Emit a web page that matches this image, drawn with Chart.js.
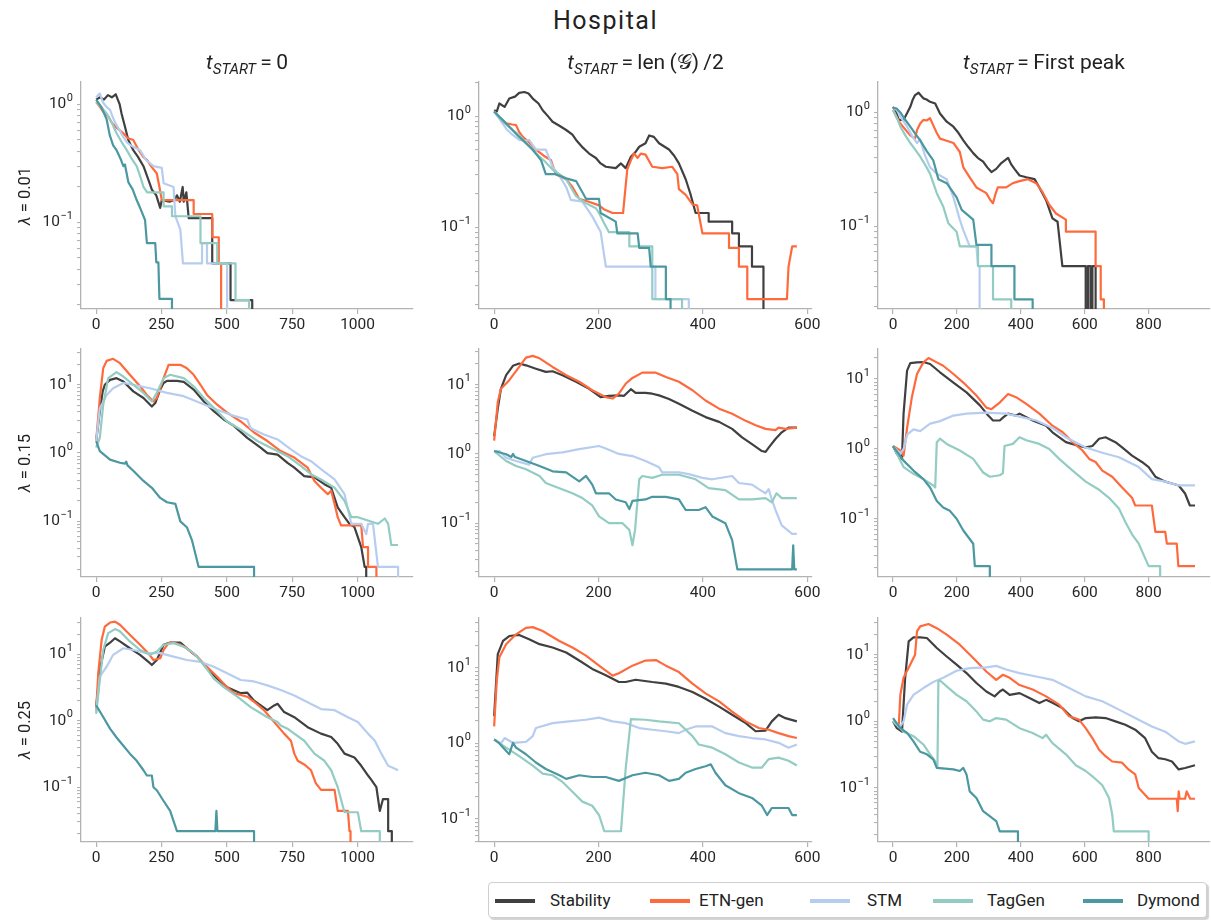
<!DOCTYPE html>
<html><head><meta charset="utf-8">
<script src="https://cdn.jsdelivr.net/npm/chart.js@4.4.0/dist/chart.umd.min.js"></script>
<style>
html,body{margin:0;padding:0;background:#fff;overflow:hidden;}
#root{position:relative;width:1211px;height:920px;font-family:Roboto,'DejaVu Sans',sans-serif;color:#222;}
canvas{position:absolute;}
.suptitle{position:absolute;left:0;top:5px;width:1211px;text-align:center;font-size:25px;letter-spacing:1.5px;line-height:32px;}
.coltitle{position:absolute;top:48px;width:400px;text-align:center;font-size:21px;line-height:28px;white-space:nowrap;}
.coltitle sub{font-size:15px;vertical-align:-5px;line-height:0;}
.rowlabel{position:absolute;left:24px;font-size:16.5px;white-space:nowrap;transform:translate(-50%,-50%) rotate(-90deg);}
#legend{position:absolute;left:488px;top:882px;width:717px;height:34px;border:1px solid #cfcfcf;border-radius:4px;background:#fff;box-shadow:2px 2px 1px rgba(0,0,0,0.18);}
.lgline{position:absolute;top:16px;height:3.5px;}
.lgtext{position:absolute;top:6px;font-size:17px;line-height:22px;white-space:nowrap;}
</style></head>
<body><div id="root">
<div class="suptitle">Hospital</div>
<div id="legend"></div>
</div>
<script>
// ---------------- DATA ----------------
const seriesNames = ['Stability', 'ETN-gen', 'STM', 'TagGen', 'Dymond'];
const colTitles = ['0', 'len\u2009(\uD835\uDCA2)\u2009/2', 'First peak'];
const rowLabels = ['0.01', '0.15', '0.25'];
const xTicksCol1 = [0, 250, 500, 750, 1000];
const xTicksCol2 = [0, 200, 400, 600];
const xTicksCol3 = [0, 200, 400, 600, 800];

// lambda = 0.01, t_start = 0
const r1c1_stability = [[0,1.1],[15,1.15],[30,1.1],[45,1.2],[60,1.15],[75,1.22],[90,1.0],[97,0.84],[110,0.65],[123,0.5],[142,0.41],[160,0.36],[181,0.3],[200,0.23],[213,0.19],[230,0.17],[245,0.133],[251,0.155],[280,0.15],[300,0.155],[309,0.17],[320,0.15],[331,0.2],[335,0.15],[345,0.18],[354,0.109],[444,0.109],[444,0.045],[514,0.045],[514,0.022],[597,0.022],[597,0]];
const r1c1_etngen = [[0,1.05],[15,0.95],[30,0.85],[45,0.8],[60,0.7],[80,0.63],[104,0.57],[120,0.52],[142,0.5],[160,0.42],[180,0.36],[194,0.34],[210,0.3],[232,0.26],[242,0.2],[251,0.155],[373,0.155],[373,0.118],[444,0.118],[444,0.075],[469,0.075],[469,0.045],[478,0.045],[478,0]];
const r1c1_stm = [[0,1.15],[8,1.2],[14,1.24],[25,1.05],[40,0.95],[53,0.9],[70,0.72],[90,0.6],[104,0.53],[120,0.47],[140,0.44],[168,0.41],[190,0.34],[219,0.3],[251,0.29],[258,0.215],[296,0.2],[303,0.113],[322,0.087],[332,0.045],[405,0.045],[405,0.067],[424,0.067],[424,0.045],[501,0.045],[501,0]];
const r1c1_taggen = [[0,1.05],[20,0.95],[40,0.84],[60,0.7],[78,0.57],[100,0.47],[117,0.41],[135,0.35],[155,0.3],[170,0.24],[181,0.2],[195,0.18],[258,0.18],[258,0.137],[290,0.137],[290,0.113],[399,0.113],[399,0.067],[463,0.067],[463,0.045],[533,0.045],[533,0.022],[585,0.022],[585,0]];
const r1c1_dymond = [[0,1.1],[20,0.95],[40,0.75],[52,0.55],[65,0.45],[78,0.41],[95,0.34],[104,0.3],[110,0.31],[123,0.22],[140,0.19],[155,0.155],[170,0.13],[187,0.105],[194,0.067],[226,0.067],[230,0.046],[238,0.046],[242,0.0225],[290,0.0225],[290,0]];

// lambda = 0.01, t_start = len/2
const r1c2_stability = [[0,1.13],[5,1.1],[10,1.3],[20,1.21],[29,1.44],[40,1.5],[48,1.62],[58,1.65],[66,1.6],[74,1.44],[85,1.3],[93,1.13],[103,1.0],[112,0.89],[125,0.82],[138,0.75],[150,0.68],[157,0.61],[170,0.52],[182,0.46],[195,0.42],[204,0.375],[214,0.35],[233,0.34],[243,0.375],[252,0.34],[262,0.43],[270,0.47],[278,0.53],[290,0.57],[297,0.67],[306,0.65],[316,0.57],[335,0.5],[345,0.44],[354,0.375],[367,0.27],[376,0.2],[386,0.134],[411,0.134],[411,0.112],[456,0.112],[456,0.088],[469,0.088],[469,0.067],[494,0.067],[494,0.044],[516,0.044],[516,0]];
const r1c2_etngen = [[0,1.1],[10,0.97],[23,0.86],[35,0.84],[42,0.83],[48,0.72],[55,0.65],[67,0.58],[80,0.5],[95,0.44],[109,0.4],[118,0.3],[138,0.27],[150,0.23],[163,0.18],[180,0.17],[201,0.157],[210,0.145],[227,0.134],[247,0.134],[255,0.33],[262,0.4],[268,0.46],[275,0.42],[281,0.46],[290,0.45],[303,0.35],[322,0.34],[341,0.35],[351,0.3],[354,0.22],[367,0.195],[380,0.16],[389,0.157],[399,0.088],[450,0.088],[450,0.065],[469,0.065],[469,0.044],[485,0.044],[485,0.0225],[561,0.0225],[564,0.044],[571,0.067],[580,0.067]];
const r1c2_stm = [[0,1.1],[10,0.95],[23,0.77],[35,0.68],[48,0.61],[58,0.6],[67,0.61],[80,0.5],[99,0.5],[112,0.35],[125,0.29],[138,0.23],[147,0.176],[169,0.17],[188,0.125],[204,0.091],[214,0.044],[309,0.044],[309,0.0225],[373,0.0225],[373,0]];
const r1c2_taggen = [[0,1.1],[15,0.9],[36,0.75],[50,0.66],[61,0.57],[80,0.46],[95,0.4],[112,0.33],[125,0.3],[138,0.27],[157,0.19],[175,0.165],[195,0.148],[201,0.134],[210,0.11],[220,0.09],[259,0.09],[259,0.067],[303,0.067],[303,0.0225],[360,0.0225],[360,0]];
const r1c2_dymond = [[0,1.1],[23,0.86],[48,0.65],[74,0.5],[90,0.4],[99,0.3],[118,0.3],[138,0.275],[157,0.26],[176,0.18],[201,0.18],[204,0.134],[233,0.112],[236,0.088],[275,0.088],[278,0.065],[297,0.065],[300,0.044],[329,0.044],[329,0.0225],[338,0.0225],[338,0]];

// lambda = 0.01, t_start = first peak
const r1c3_stability = [[0,1.12],[10,1.0],[18,0.86],[33,0.86],[45,1.0],[54,1.12],[62,1.3],[69,1.42],[80,1.49],[88,1.4],[95,1.33],[105,1.3],[116,1.24],[132,1.2],[147,0.98],[168,0.83],[189,0.75],[205,0.66],[220,0.57],[235,0.5],[251,0.44],[265,0.4],[282,0.37],[295,0.33],[308,0.3],[323,0.32],[339,0.36],[350,0.38],[360,0.4],[370,0.35],[380,0.32],[396,0.28],[417,0.27],[443,0.26],[458,0.22],[479,0.17],[499,0.118],[515,0.11],[530,0.045],[603,0.045],[603,0],[610,0],[610,0.045],[618,0.045],[618,0],[624,0],[624,0.045],[634,0.045],[634,0]];
const r1c3_etngen = [[0,1.05],[10,0.92],[23,0.8],[40,0.7],[54,0.63],[69,0.59],[75,0.7],[85,0.8],[95,0.86],[105,0.85],[116,0.89],[126,0.77],[137,0.66],[147,0.59],[163,0.57],[189,0.54],[209,0.45],[220,0.33],[240,0.27],[261,0.22],[292,0.196],[305,0.17],[313,0.16],[320,0.19],[328,0.22],[354,0.22],[375,0.24],[396,0.25],[422,0.26],[448,0.24],[468,0.2],[489,0.155],[510,0.13],[541,0.115],[541,0.09],[634,0.09],[634,0.045],[650,0.045],[650,0.023],[660,0.023],[660,0]];
const r1c3_stm = [[0,1.1],[12,1.05],[25,0.9],[44,0.75],[60,0.62],[75,0.54],[85,0.58],[100,0.42],[116,0.33],[137,0.29],[168,0.26],[189,0.18],[209,0.115],[220,0.093],[240,0.067],[261,0.067],[266,0.045],[271,0.045],[271,0]];
const r1c3_taggen = [[0,1.05],[12,0.9],[23,0.75],[40,0.62],[54,0.54],[70,0.47],[85,0.41],[100,0.35],[116,0.29],[137,0.196],[157,0.15],[173,0.107],[199,0.09],[209,0.067],[266,0.067],[266,0.045],[313,0.045],[313,0.023],[370,0.023],[370,0]];
const r1c3_dymond = [[0,1.1],[12,1.08],[23,1.0],[40,0.85],[54,0.75],[70,0.65],[85,0.57],[105,0.46],[126,0.38],[142,0.26],[168,0.24],[199,0.18],[215,0.14],[251,0.115],[261,0.069],[308,0.069],[308,0.045],[380,0.045],[380,0.023],[437,0.023],[437,0]];

// lambda = 0.15, t_start = 0
const r2c1_stability = [[0,1.5],[14,4.1],[25,8],[33,10],[53,11.8],[78,12.5],[104,11.2],[142,8],[181,6.4],[213,4.8],[226,5.4],[245,8.5],[258,10.6],[271,11.4],[309,11.4],[335,11],[373,8.5],[412,5.7],[450,4.1],[488,3.1],[527,2.5],[578,1.67],[629,1.2],[655,1.0],[694,0.95],[732,0.72],[758,0.61],[796,0.46],[835,0.44],[873,0.35],[899,0.31],[924,0.16],[950,0.115],[969,0.092],[988,0.082],[1014,0.042],[1027,0.0215],[1033,0.0215],[1033,0]];
const r2c1_etngen = [[0,1.5],[14,6.4],[27,17.5],[40,22.4],[65,24],[91,20.7],[129,14],[168,9.5],[194,7.1],[219,5.7],[232,6.4],[258,12.5],[277,19.6],[296,19.6],[322,19.6],[347,17.5],[373,14],[399,10],[424,7.1],[463,5.1],[501,3.9],[553,2.9],[604,2.0],[655,1.5],[706,1.07],[758,0.86],[809,0.61],[835,0.39],[860,0.31],[886,0.25],[899,0.28],[912,0.18],[924,0.115],[937,0.087],[1014,0.087],[1021,0.042],[1040,0.042],[1040,0.0215],[1072,0.0215],[1072,0]];
const r2c1_stm = [[0,1.5],[14,4.5],[40,7.1],[65,8.9],[104,10.6],[142,10],[206,8.9],[271,7.6],[335,6.8],[399,5.4],[463,4.3],[527,3.5],[578,3.1],[591,2.3],[642,1.87],[694,1.58],[745,1.13],[783,0.9],[822,0.76],[860,0.58],[912,0.41],[950,0.25],[976,0.092],[1014,0.092],[1033,0.065],[1040,0.092],[1059,0.092],[1078,0.0215],[1155,0.0215],[1155,0]];
const r2c1_taggen = [[0,1.2],[14,1.67],[27,5.1],[46,12.5],[78,15.3],[104,13.2],[142,10],[181,7.6],[213,5.7],[232,7.6],[258,12.5],[283,14],[335,12.5],[373,9.5],[412,6.4],[450,4.6],[501,2.9],[553,2.2],[617,1.5],[681,1.13],[732,0.9],[783,0.65],[822,0.49],[860,0.41],[912,0.31],[950,0.2],[976,0.115],[1001,0.115],[1078,0.092],[1104,0.11],[1117,0.092],[1129,0.045],[1155,0.045]];
const r2c1_dymond = [[0,1.5],[14,1.07],[53,0.8],[91,0.72],[110,0.7],[115,0.75],[120,0.66],[142,0.55],[181,0.39],[213,0.31],[245,0.22],[271,0.19],[303,0.18],[322,0.1],[347,0.082],[367,0.052],[392,0.0215],[604,0.0215],[604,0]];

// lambda = 0.15, t_start = len/2
const r2c2_stability = [[0,1.8],[7,4.5],[13,8.7],[23,13.7],[36,18.7],[48,20.2],[61,19],[80,17],[99,15.3],[112,15.6],[131,13.7],[157,11],[182,8.7],[204,6.6],[220,6.9],[239,7],[249,6.9],[262,8.6],[271,7.6],[290,7.6],[303,7.4],[316,7],[335,6.2],[354,5.3],[380,4.2],[405,3.4],[431,2.9],[456,2.3],[475,1.73],[494,1.38],[513,1.1],[520,1.07],[526,1.23],[539,1.64],[551,2.05],[564,2.4],[580,2.4]];
const r2c2_etngen = [[0,1.55],[7,5.6],[13,8.7],[29,11.6],[48,18],[61,24.5],[74,26],[87,24],[112,18],[138,13.7],[163,11],[188,8.3],[214,6.6],[227,6.3],[239,7.4],[252,10.3],[265,12.5],[284,14.9],[310,14.9],[329,12.9],[354,11],[380,8.3],[405,5.9],[431,4.5],[456,3.8],[482,3.0],[501,2.6],[520,2.3],[539,2.2],[545,2.4],[558,2.3],[580,2.4]];
const r2c2_stm = [[0,1.1],[10,1.1],[23,0.88],[42,0.79],[67,0.7],[74,0.88],[99,0.99],[131,1.05],[163,1.17],[201,1.3],[214,1.2],[239,1.0],[265,0.93],[290,0.79],[316,0.64],[322,0.54],[354,0.54],[373,0.51],[399,0.45],[418,0.43],[456,0.48],[469,0.38],[494,0.36],[507,0.31],[520,0.27],[526,0.31],[532,0.22],[539,0.155],[551,0.093],[571,0.07],[580,0.07]];
const r2c2_taggen = [[0,1.1],[23,0.79],[42,0.67],[61,0.6],[87,0.48],[99,0.38],[125,0.32],[150,0.27],[169,0.23],[188,0.18],[201,0.125],[220,0.1],[246,0.1],[259,0.08],[265,0.048],[270,0.08],[278,0.43],[284,0.48],[303,0.45],[322,0.5],[354,0.5],[386,0.43],[411,0.32],[443,0.3],[469,0.22],[494,0.22],[520,0.23],[532,0.2],[541,0.27],[551,0.23],[580,0.23]];
const r2c2_dymond = [[0,1.1],[23,0.99],[33,0.9],[36,1.0],[40,0.9],[61,0.79],[87,0.67],[112,0.56],[138,0.54],[163,0.4],[176,0.48],[188,0.36],[195,0.27],[220,0.27],[233,0.22],[252,0.2],[259,0.16],[265,0.21],[290,0.22],[303,0.24],[329,0.24],[354,0.22],[367,0.155],[392,0.155],[405,0.17],[418,0.125],[443,0.1],[456,0.057],[466,0.0215],[571,0.0215],[573,0.048],[575,0.0215],[580,0.0215]];

// lambda = 0.15, t_start = first peak
const r2c3_stability = [[0,1.1],[12,0.85],[28,0.72],[33,3.2],[44,13.2],[54,16.9],[75,17.3],[95,17.5],[116,16.4],[147,12.5],[189,8.9],[230,6.45],[272,4.2],[298,3.0],[313,2.55],[334,2.55],[344,2.8],[360,3.2],[385,3.0],[396,3.2],[437,2.55],[479,2.15],[499,1.73],[541,1.25],[582,1.1],[603,1.05],[624,1.1],[645,1.4],[665,1.47],[696,1.25],[717,1.05],[748,0.8],[779,0.65],[800,0.55],[821,0.4],[852,0.34],[873,0.32],[894,0.3],[914,0.23],[929,0.155],[945,0.155]];
const r2c3_etngen = [[0,1.1],[23,0.95],[33,0.8],[44,2.0],[59,5.5],[75,11.8],[95,17.3],[111,20],[137,17.3],[157,15.5],[189,11.8],[220,8.9],[261,5.8],[292,3.9],[308,3.7],[334,4.6],[360,6.1],[385,5.5],[417,4.4],[458,3.2],[499,2.15],[531,1.73],[562,1.25],[593,0.95],[614,0.72],[634,0.65],[655,0.49],[686,0.4],[717,0.28],[748,0.2],[758,0.155],[810,0.155],[821,0.065],[852,0.065],[857,0.044],[888,0.044],[893,0.021],[945,0.021]];
const r2c3_stm = [[0,1.1],[23,0.85],[33,1.0],[44,1.6],[64,1.9],[85,1.8],[116,2.3],[147,2.5],[189,3.0],[230,3.2],[292,3.3],[354,3.2],[396,2.9],[448,2.55],[499,2.0],[541,1.47],[603,1.05],[655,0.88],[707,0.76],[769,0.55],[810,0.37],[852,0.34],[894,0.3],[945,0.3]];
const r2c3_taggen = [[0,1.1],[33,0.55],[64,0.44],[95,0.37],[126,0.3],[132,0.28],[137,1.25],[147,1.4],[168,1.18],[209,0.95],[251,0.72],[282,0.46],[303,0.4],[334,0.42],[344,0.45],[349,1.1],[375,1.18],[396,1.47],[417,1.33],[458,1.18],[489,1.0],[520,0.72],[562,0.49],[603,0.34],[645,0.26],[676,0.2],[707,0.14],[727,0.09],[748,0.06],[769,0.044],[800,0.021],[836,0.021],[836,0]];
const r2c3_dymond = [[0,1.1],[33,0.68],[64,0.49],[95,0.37],[116,0.28],[137,0.18],[157,0.145],[178,0.13],[199,0.1],[220,0.068],[251,0.044],[256,0.021],[303,0.021],[303,0]];

// lambda = 0.25, t_start = 0
const r3c1_stability = [[0,1.6],[14,5.8],[33,13],[53,14.9],[72,17.4],[91,15.6],[129,12.3],[168,9.8],[200,7.7],[213,6.9],[232,8.2],[258,13.9],[283,15],[322,15],[347,12.3],[386,9.2],[424,6.1],[463,4.3],[501,3.2],[553,2.6],[578,2.65],[604,2.0],[655,1.44],[681,1.7],[694,1.8],[719,1.35],[758,1.13],[809,0.8],[860,0.64],[899,0.57],[924,0.45],[950,0.32],[988,0.28],[1014,0.21],[1040,0.15],[1052,0.13],[1072,0.1],[1085,0.044],[1097,0.066],[1117,0.066],[1117,0.0218],[1131,0.0218],[1131,0]];
const r3c1_etngen = [[0,1.44],[8,5.2],[21,16.5],[33,26],[53,30],[72,31],[91,27.8],[129,19.6],[168,13.9],[200,10.3],[219,8.2],[245,8.7],[258,11.6],[277,14.7],[296,15],[322,13.9],[347,12.3],[386,9.2],[424,6.5],[463,4.6],[501,3.2],[527,2.6],[578,2.3],[604,1.93],[642,1.44],[681,0.96],[719,0.64],[745,0.5],[758,0.32],[771,0.25],[796,0.22],[822,0.18],[840,0.115],[860,0.091],[912,0.091],[924,0.044],[963,0.044],[969,0.0218],[973,0.0218],[973,0]];
const r3c1_stm = [[0,1.35],[14,4.6],[40,6.5],[65,9.8],[104,12.3],[142,11.6],[194,10.4],[245,10.4],[296,9.2],[347,8.2],[399,7.7],[450,6.5],[501,5.2],[553,4.1],[604,3.9],[655,3.4],[706,2.9],[758,2.4],[809,1.9],[860,1.5],[912,1.44],[963,1.13],[1001,0.96],[1040,0.64],[1066,0.5],[1091,0.32],[1117,0.21],[1143,0.19],[1155,0.18]];
const r3c1_taggen = [[0,1.27],[14,4.1],[27,11.6],[46,20.8],[72,23.9],[91,22.1],[129,15.6],[168,11.6],[206,9.8],[232,11],[258,13.9],[296,14.7],[335,13],[373,10.4],[412,6.9],[450,4.3],[488,3.2],[540,2.3],[591,1.6],[655,1.13],[694,0.96],[706,0.85],[732,0.76],[758,0.64],[796,0.5],[835,0.32],[873,0.25],[899,0.18],[924,0.1],[950,0.042],[1001,0.042],[1014,0.0218],[1085,0.0218],[1085,0]];
const r3c1_dymond = [[0,1.7],[27,1.14],[53,0.76],[78,0.56],[104,0.42],[129,0.32],[155,0.25],[181,0.18],[194,0.15],[213,0.15],[219,0.1],[232,0.09],[258,0.062],[283,0.044],[309,0.0218],[456,0.0218],[460,0.044],[464,0.0218],[604,0.0218],[604,0]];

// lambda = 0.25, t_start = len/2
const r3c2_stability = [[0,2.3],[7,15.2],[17,22.7],[29,26.4],[48,27.3],[67,23.9],[87,20.6],[112,18.6],[138,16],[163,12.5],[188,9.7],[214,8],[239,6.5],[252,6.5],[271,6.97],[303,6.5],[329,6.2],[354,5.6],[380,4.8],[405,3.9],[431,3.07],[456,2.4],[482,1.86],[501,1.45],[520,1.48],[532,1.96],[545,2.4],[558,2.16],[580,1.96]];
const r3c2_etngen = [[0,1.68],[5,6.8],[10,13.8],[23,20.6],[42,27.8],[61,33.9],[74,34.6],[93,30.7],[125,22.7],[150,18.6],[176,14.5],[201,10.7],[227,7.9],[239,8.5],[265,10.7],[290,12.5],[310,12.7],[329,10.7],[354,8.8],[380,6.2],[405,4.6],[431,3.6],[456,2.64],[482,1.96],[507,1.6],[526,1.52],[545,1.37],[564,1.25],[580,1.18]];
const r3c2_stm = [[0,1.13],[13,1.0],[20,1.18],[36,1.02],[61,1.05],[74,1.25],[80,1.6],[112,1.86],[144,1.96],[176,2.06],[201,2.2],[227,1.96],[252,1.86],[278,1.6],[303,1.52],[329,1.45],[354,1.37],[367,1.52],[386,1.68],[418,1.68],[443,1.37],[469,1.25],[494,1.18],[520,1.13],[545,1.02],[564,0.88],[580,0.97]];
const r3c2_taggen = [[0,1.13],[23,0.88],[48,0.68],[74,0.51],[93,0.4],[112,0.38],[131,0.31],[150,0.23],[169,0.17],[188,0.15],[201,0.113],[211,0.069],[243,0.069],[252,0.46],[262,2.1],[290,2.06],[316,1.96],[354,1.85],[380,1.25],[392,0.97],[418,0.88],[443,0.72],[469,0.56],[494,0.48],[513,0.48],[526,0.62],[545,0.65],[564,0.59],[580,0.51]];
const r3c2_dymond = [[0,1.13],[10,1.0],[29,0.72],[36,1.02],[42,0.88],[61,0.72],[80,0.56],[99,0.46],[125,0.38],[138,0.34],[163,0.38],[188,0.36],[214,0.36],[239,0.32],[265,0.38],[290,0.41],[316,0.38],[335,0.32],[354,0.34],[367,0.41],[386,0.46],[405,0.5],[415,0.53],[424,0.41],[443,0.28],[469,0.22],[494,0.19],[513,0.15],[523,0.113],[532,0.14],[564,0.14],[571,0.113],[580,0.113]];

// lambda = 0.25, t_start = first peak
const r3c3_stability = [[0,1.0],[12,0.79],[28,0.7],[38,4.5],[49,15.8],[64,18.2],[85,18.2],[106,17.8],[137,12.6],[168,9.4],[199,7.1],[230,5.3],[261,3.76],[292,2.8],[318,2.37],[334,2.8],[344,3.0],[365,2.5],[396,2.65],[427,2.24],[458,1.88],[479,2.1],[499,1.9],[530,1.58],[562,1.12],[582,1.0],[603,1.12],[634,1.15],[665,1.12],[696,1.0],[727,0.89],[758,0.75],[789,0.56],[810,0.35],[831,0.28],[852,0.27],[873,0.25],[894,0.19],[914,0.2],[945,0.22]];
const r3c3_etngen = [[0,1.0],[18,0.85],[23,2.5],[33,4.5],[54,7.1],[69,10],[75,22.4],[85,26.6],[111,28.8],[137,25],[168,20],[209,14.1],[251,8.9],[292,5.6],[323,4.2],[344,5.0],[365,4.5],[396,3.5],[437,3.0],[479,2.37],[520,1.78],[551,1.19],[582,1.06],[603,0.79],[624,0.56],[645,0.375],[665,0.3],[686,0.25],[717,0.24],[737,0.19],[758,0.16],[769,0.1],[800,0.069],[888,0.069],[891,0.045],[894,0.089],[897,0.069],[914,0.069],[919,0.089],[930,0.069],[945,0.069]];
const r3c3_stm = [[0,1.0],[23,0.85],[33,1.0],[44,1.78],[64,2.5],[95,3.16],[126,3.9],[157,4.5],[199,5.75],[240,6.3],[292,6.45],[323,6.8],[354,6.0],[396,5.3],[448,4.7],[499,4.2],[551,3.16],[603,2.37],[655,2.0],[707,1.5],[758,1.12],[810,0.84],[852,0.7],[894,0.5],[914,0.46],[945,0.5]];
const r3c3_taggen = [[0,1.0],[33,0.7],[64,0.6],[95,0.45],[116,0.32],[132,0.25],[139,0.2],[142,4.0],[147,4.1],[168,3.35],[199,2.5],[230,2.0],[261,1.41],[282,1.06],[303,1.0],[323,1.12],[354,1.06],[396,0.79],[437,0.67],[468,0.56],[479,0.63],[499,0.47],[541,0.32],[572,0.22],[603,0.18],[624,0.15],[655,0.11],[676,0.071],[686,0.04],[691,0.0224],[800,0.0224],[800,0]];
const r3c3_dymond = [[0,1.12],[23,0.79],[44,0.67],[64,0.5],[85,0.35],[106,0.32],[126,0.27],[137,0.2],[189,0.19],[209,0.18],[220,0.2],[230,0.16],[240,0.089],[261,0.071],[282,0.045],[323,0.032],[334,0.0224],[391,0.0224],[391,0]];

// y-axis limits (log scale) per panel, x-axis limits per column
const yLimits = [
  [[0.0185, 1.55], [0.0183, 2.03], [0.0189, 1.85]],
  [[0.0153, 33.4], [0.0167, 32.7], [0.0147, 26.9]],
  [[0.0150, 35.1], [0.0497, 45.7], [0.0155, 35.5]]
];
const xLimits = [[-58, 1212], [-29, 609], [-47, 992]];

// ---------------- ASSEMBLY ----------------
const panels = [
  [[r1c1_stability, r1c1_etngen, r1c1_stm, r1c1_taggen, r1c1_dymond],
   [r1c2_stability, r1c2_etngen, r1c2_stm, r1c2_taggen, r1c2_dymond],
   [r1c3_stability, r1c3_etngen, r1c3_stm, r1c3_taggen, r1c3_dymond]],
  [[r2c1_stability, r2c1_etngen, r2c1_stm, r2c1_taggen, r2c1_dymond],
   [r2c2_stability, r2c2_etngen, r2c2_stm, r2c2_taggen, r2c2_dymond],
   [r2c3_stability, r2c3_etngen, r2c3_stm, r2c3_taggen, r2c3_dymond]],
  [[r3c1_stability, r3c1_etngen, r3c1_stm, r3c1_taggen, r3c1_dymond],
   [r3c2_stability, r3c2_etngen, r3c2_stm, r3c2_taggen, r3c2_dymond],
   [r3c3_stability, r3c3_etngen, r3c3_stm, r3c3_taggen, r3c3_dymond]]
];
const xTicks = [xTicksCol1, xTicksCol2, xTicksCol3];

// styles / layout
const seriesColors = ['#404040', '#ff6a3d', '#b7cdf0', '#93ccc2', '#4c98a0'];
const FONT = 'Roboto';
const TXT = '#262626';
const AXC = '#b3b3b3';
const colLeft = [81, 479, 878], colWidth = [332, 333, 332];
const rowTop = [82, 349, 618], rowHeight = [227, 228, 224];
const YW = 70, XH = 30, PT = 12, PR = 24;

const root = document.getElementById('root');
function logTicks(min, max){
  const out = [];
  for (let e = Math.floor(Math.log10(min)); e <= Math.ceil(Math.log10(max)); e++) {
    for (let k = 1; k < 10; k++) {
      const v = k * Math.pow(10, e);
      if (v >= min * 0.9999 && v <= max * 1.0001) out.push({value: v});
    }
  }
  return out;
}
function decadeExp(v){
  const e = Math.round(Math.log10(v));
  return Math.abs(v - Math.pow(10, e)) < 1e-9 * Math.pow(10, e) ? e : null;
}
// draws "10^n" labels with a real superscript at the decade ticks of the y scale
const decadeLabelPlugin = {
  id: 'decadeLabels',
  afterDraw(chart){
    const s = chart.scales.y, ctx = chart.ctx;
    ctx.save();
    ctx.fillStyle = TXT;
    ctx.textBaseline = 'middle';
    ctx.textAlign = 'left';
    s.ticks.forEach(t => {
      const e = decadeExp(t.value);
      if (e === null) return;
      const y = s.getPixelForValue(t.value);
      const expStr = e < 0 ? '\u2212' + (-e) : String(e);
      ctx.font = '11px ' + FONT;
      const we = ctx.measureText(expStr).width;
      ctx.font = '15.5px ' + FONT;
      const wb = ctx.measureText('10').width;
      const xr = s.right - 4 - 4;
      ctx.fillText('10', xr - we - wb - 0.5, y);
      ctx.font = '11px ' + FONT;
      ctx.fillText(expStr, xr - we, y - 6);
    });
    ctx.restore();
  }
};

function makePanel(r, c){
  const L = colLeft[c], T = rowTop[r], W = colWidth[c], H = rowHeight[r];
  const cw = YW + W + PR, ch = PT + H + XH;
  const cv = document.createElement('canvas');
  cv.width = cw; cv.height = ch;
  cv.style.left = (L - YW) + 'px'; cv.style.top = (T - PT) + 'px';
  cv.style.width = cw + 'px'; cv.style.height = ch + 'px';
  root.appendChild(cv);
  const datasets = panels[r][c].map((pts, i) => ({
    label: seriesNames[i],
    // zero values are clipped below the log axis (as matplotlib does)
    data: pts.map(p => ({x: p[0], y: p[1] > 0 ? p[1] : 1e-6})),
    borderColor: seriesColors[i],
    backgroundColor: seriesColors[i],
    borderWidth: 2.2,
    pointRadius: 0, pointHoverRadius: 0,
    tension: 0, fill: false,
    borderJoinStyle: 'round',
    order: 5 - i
  }));
  new Chart(cv, {
    type: 'line',
    data: {datasets},
    plugins: [decadeLabelPlugin],
    options: {
      responsive: false, animation: false, devicePixelRatio: 1, events: [],
      layout: {padding: {left: 0, top: PT, right: PR, bottom: 0}},
      plugins: {legend: {display: false}, tooltip: {enabled: false}},
      scales: {
        x: {
          type: 'linear', min: xLimits[c][0], max: xLimits[c][1],
          afterBuildTicks: s => { s.ticks = xTicks[c].map(v => ({value: v})); },
          afterFit: s => { s.height = XH; },
          grid: {drawOnChartArea: false, drawTicks: true, tickLength: 5, color: AXC, lineWidth: 1.2},
          border: {display: true, color: AXC, width: 1.3},
          ticks: {font: {family: FONT, size: 15.5}, color: TXT, padding: 2, maxRotation: 0, autoSkip: false, callback: v => String(v)}
        },
        y: {
          type: 'logarithmic', min: yLimits[r][c][0], max: yLimits[r][c][1],
          afterBuildTicks: s => { s.ticks = logTicks(s.min, s.max); },
          afterFit: s => { s.width = YW; },
          grid: {drawOnChartArea: false, drawTicks: true, tickLength: 4, color: AXC, lineWidth: 1.1},
          border: {display: true, color: AXC, width: 1.3},
          ticks: {font: {family: FONT, size: 15}, color: TXT, padding: 2, autoSkip: false, callback: () => ''}
        }
      }
    }
  });
}

for (let r = 0; r < 3; r++) for (let c = 0; c < 3; c++) makePanel(r, c);

// column titles
colTitles.forEach((t, c) => {
  const d = document.createElement('div');
  d.className = 'coltitle';
  d.style.left = (colLeft[c] + colWidth[c] / 2 - 200) + 'px';
  d.innerHTML = '<i>t</i><sub><i>START</i></sub>\u2009=\u2009' + t;
  root.appendChild(d);
});
// row labels
rowLabels.forEach((t, r) => {
  const d = document.createElement('div');
  d.className = 'rowlabel';
  d.style.top = (rowTop[r] + rowHeight[r] / 2) + 'px';
  d.innerHTML = '<i>\u03BB</i> = ' + t;
  root.appendChild(d);
});
// legend
const lg = document.getElementById('legend');
const lgLinePos = [6, 161, 321, 444, 594];
const lgTextPos = [61, 210, 378, 498, 648];
seriesNames.forEach((n, i) => {
  const l = document.createElement('div');
  l.className = 'lgline';
  l.style.left = lgLinePos[i] + 'px'; l.style.width = '40px'; l.style.background = seriesColors[i];
  lg.appendChild(l);
  const t = document.createElement('div');
  t.className = 'lgtext';
  t.style.left = lgTextPos[i] + 'px';
  t.textContent = n;
  lg.appendChild(t);
});
</script>
</body></html>
